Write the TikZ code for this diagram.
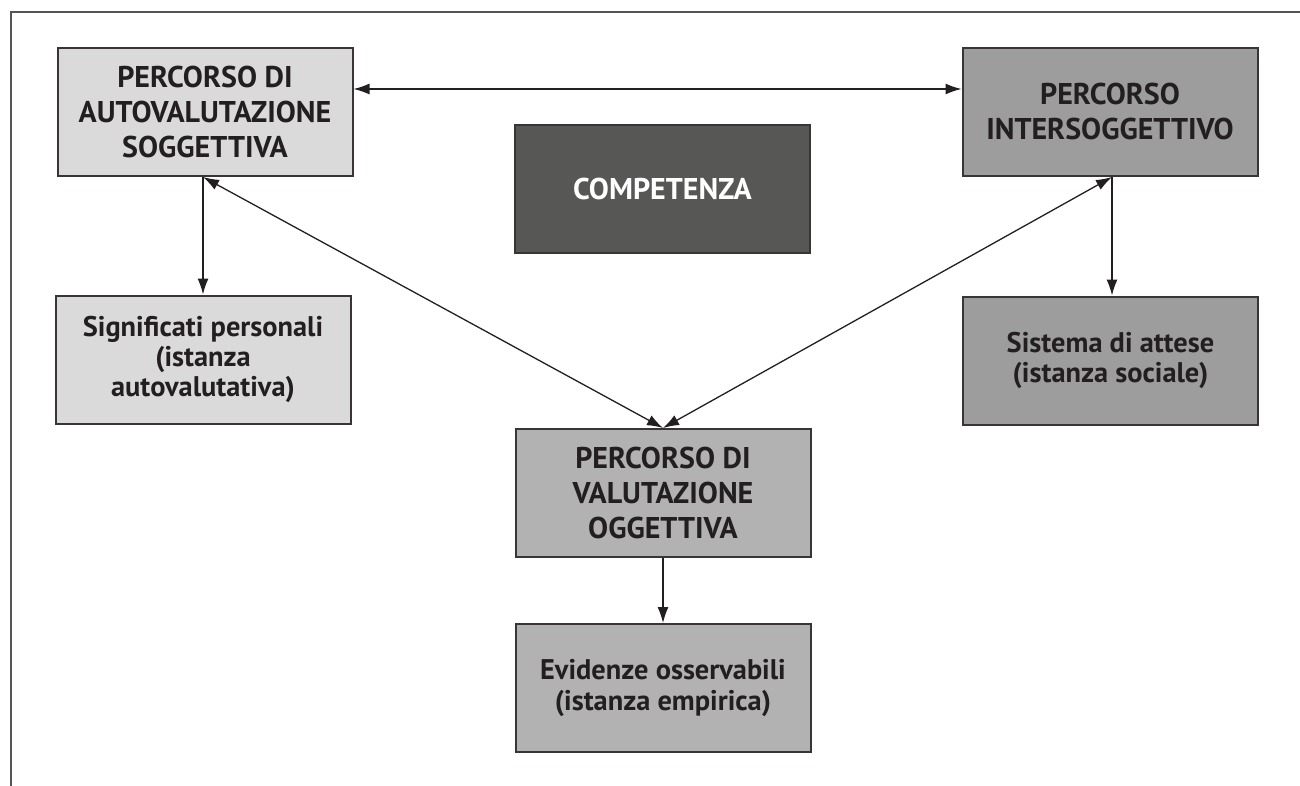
\documentclass[tikz,border=0pt]{standalone}
\usepackage{fontspec}
\setmainfont{PT Sans}
\usepackage{tikz}
\usetikzlibrary{arrows.meta}
\definecolor{ink}{HTML}{231F20}
\definecolor{frame}{HTML}{555555}
\definecolor{soggcol}{HTML}{DADADA}
\definecolor{intercol}{HTML}{9D9D9D}
\definecolor{oggcol}{HTML}{B2B2B2}
\definecolor{compcol}{HTML}{575756}

\begin{document}
\begin{tikzpicture}[
        >={Latex[length=8pt,width=5.5pt]},
        x=0.5pt,
        y=-0.5pt,
        every node/.style={font=\bfseries\fontsize{15}{17.5}\selectfont, text=ink},
        box/.style={draw=ink!90, line width=1pt, minimum width=147.5pt,
                minimum height=64pt, inner sep=0pt, align=center},
        small/.style={font=\bfseries\fontsize{14.2}{15.2}\selectfont},
        link/.style={line width=0.65pt, draw=ink}
    ]
    \useasboundingbox (0,0) rectangle (1300,786);
    % frame
    \draw[frame, line width=1pt] (10.5,786) -- (10.5,12) -- (1300,12);

    \node[box, fill=soggcol] (sogg) at (205,112) {PERCORSO DI\\AUTOVALUTAZIONE\\SOGGETTIVA};
    \node[box, fill=intercol] (inter) at (1110,112) {PERCORSO\\INTERSOGGETTIVO};
    \node[box, fill=compcol, text=white] (comp) at (662.5,189) {COMPETENZA};
    \node[box, small, fill=soggcol] (signif) at (203,359.5) {Significati personali\\(istanza\\autovalutativa)};
    \node[box, small, fill=intercol] (attese) at (1110.5,360.5) {Sistema di attese\\(istanza sociale)};
    \node[box, fill=oggcol] (ogg) at (663,493) {PERCORSO DI\\VALUTAZIONE\\OGGETTIVA};
    \node[box, small, fill=oggcol] (evid) at (663,688) {Evidenze osservabili\\(istanza empirica)};

    \draw[link, <->] ([yshift=11.5pt]sogg.east) -- ([yshift=11.5pt]inter.west);
    \draw[link, ->] ([xshift=-1pt]sogg.south) -- ([xshift=-1pt]sogg.south |- signif.north);
    \draw[link, <->] ([xshift=-1pt]sogg.south) -- (ogg.north);
    \draw[link, <->] ([xshift=1pt]inter.south) -- (ogg.north);
    \draw[link, ->] ([xshift=1pt]inter.south) -- ([xshift=1pt]inter.south |- attese.north);
    \draw[link, ->] (ogg.south) -- (evid.north);
\end{tikzpicture}
\end{document}
